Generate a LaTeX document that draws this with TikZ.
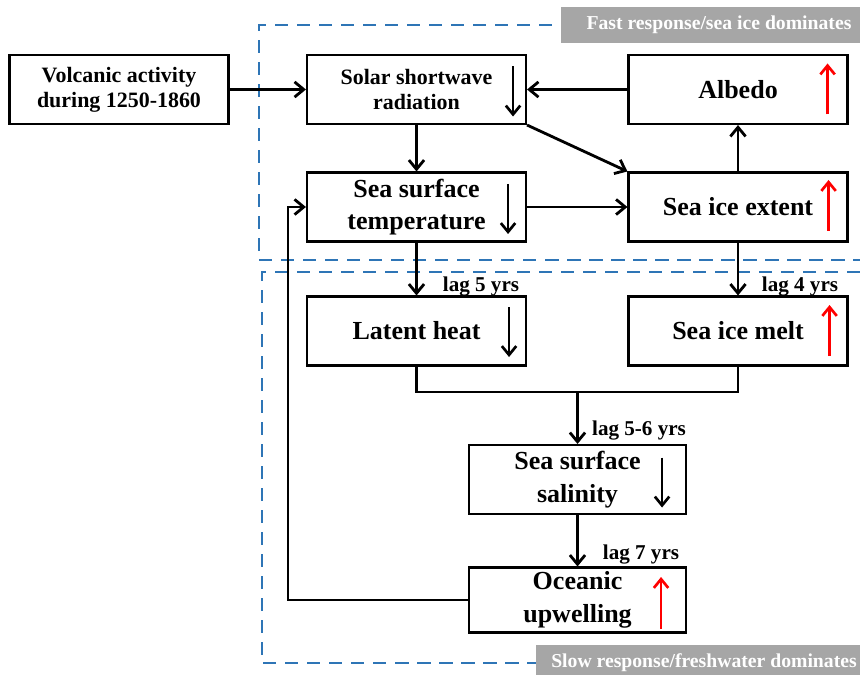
\documentclass[tikz,border=0pt]{standalone}
\usepackage{fontspec}
\setmainfont{Liberation Serif}
\usetikzlibrary{arrows.meta}

\definecolor{dashblue}{RGB}{46,117,182}
\definecolor{taggray}{RGB}{166,166,166}

\begin{document}
\begin{tikzpicture}[x = 0.025cm, y = -0.025cm,
  box/.style = {draw, line width = 1.6pt, minimum width = 5.47cm,
    minimum height = 1.72cm, align = center, inner sep = 0pt,
    font = \bfseries\fontsize{18.5}{23}\selectfont},
  smallbox/.style = {box, font = \bfseries\fontsize{15.6}{18}\selectfont},
  link/.style = {line width = 2pt, -{Straight Barb[length = 2.3mm, width = 3.8mm]}},
  wire/.style = {line width = 2pt},
  down/.style = {line width = 1.9pt, -{Straight Barb[length = 2.2mm, width = 3.6mm]}},
  up/.style = {down, red},
  region/.style = {dashblue, line width = 2pt, dash pattern = on 0.33cm off 0.22cm},
  tag/.style = {fill = taggray, text = white, minimum height = 0.9cm, inner sep = 0pt,
    font = \bfseries\fontsize{14}{16}\selectfont},
  lag/.style = {font = \bfseries\fontsize{15}{17}\selectfont, inner sep = 0pt}]
\useasboundingbox (0, 0) rectangle (860, 675);
%\draw[very thin, color = gray](0, 0) grid[step = 50] (860, 675);

% dashed regions
\draw[region] (860, 25) -| (259, 260) -- (860, 260);
\draw[region] (860, 272) -| (262, 663) -- (860, 663);
\node[tag, minimum width = 7.9cm] (fasttag) at (719, 25) {Fast response/sea ice dominates};
\node[tag, minimum width = 8.4cm] (slowtag) at (704, 663) {Slow response/freshwater dominates};

% boxes
\node[smallbox] (volc) at (119, 89.5) {Volcanic activity\\during 1250-1860};
\node[smallbox] (solar) at (416.5, 89.5) {Solar shortwave\\radiation};
\node[box] (albedo) at (738, 89.5) {Albedo};
\node[box] (sst) at (416.5, 207) {Sea surface\\temperature};
\node[box] (extent) at (738, 207) {Sea ice extent};
\node[box] (latent) at (416.5, 331) {Latent heat};
\node[box] (melt) at (738, 331) {Sea ice melt};
\node[box, minimum width = 5.42cm] (sss) at (577.5, 479.5) {Sea surface\\salinity};
\node[box, minimum width = 5.42cm, minimum height = 1.62cm] (upw) at (577.5, 600) {Oceanic\\upwelling};

% up / down marks
\draw[down] (solar.east) ++(-14, -23) -- ++(0, 50);
\draw[down] (sst.east) ++(-19, -23) -- ++(0, 50);
\draw[down] (latent.east) ++(-18, -24) -- ++(0, 50);
\draw[down] (sss.east) ++(-25, -22) -- ++(0, 50);
\draw[up] (albedo.east) ++(-21, 25) -- ++(0, -51);
\draw[up] (extent.east) ++(-20, 24) -- ++(0, -51);
\draw[up] (melt.east) ++(-19, 25) -- ++(0, -51);
\draw[up] (upw.east) ++(-26, 29) -- ++(0, -52);

% links
\draw[link] (volc) -- (solar);
\draw[link] (albedo) -- (solar);
\draw[link] (solar) -- (sst);
\draw[link] (solar.south east) -- (extent.north west);
\draw[link] (sst) -- (extent);
\draw[link] (extent) -- (albedo);
\draw[link] (sst) -- (latent);
\draw[link] (extent) -- (melt);
\coordinate (merge) at (577.5, 392);
\draw[wire] (latent.south) |- (merge) -| (melt.south);
\draw[link] (merge) -- (sss);
\draw[link] (sss) -- (upw);
\coordinate (back) at (288, 600);
\draw[link] (upw.west) -- (back) |- (sst.west);

% lags
\node[lag] (lag1) at (481, 287) {lag 5 yrs};
\node[lag] (lag2) at (800, 287) {lag 4 yrs};
\node[lag] (lag3) at (639, 431) {lag 5-6 yrs};
\node[lag] (lag4) at (641, 555) {lag 7 yrs};
\end{tikzpicture}
\end{document}
